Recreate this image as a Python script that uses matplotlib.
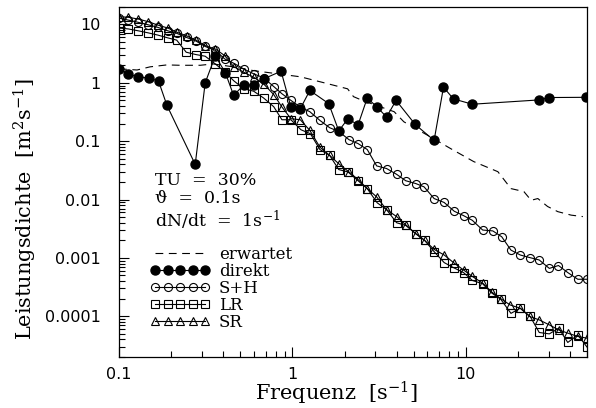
import matplotlib
matplotlib.use("Agg")
import matplotlib.pyplot as plt

# spectral density estimates
erwartet_f = [0.1, 0.127, 0.151, 0.189, 0.225, 0.294, 0.349, 0.456, 0.595, 0.82, 1.11, 1.45,
              2.08, 2.25, 2.53, 3.86, 4.39, 6.53, 8.18, 11.1, 15.3, 18.2, 21.6, 23.8, 26.0,
              29.6, 33.9, 40.5, 47.3]
erwartet_p = [1.74, 1.66, 1.88, 2.03, 2.0, 2.0, 2.11, 1.88, 1.62, 1.43, 1.27, 1.04,
              0.79, 0.58, 0.50, 0.32, 0.215, 0.11, 0.0745, 0.0447, 0.030, 0.0154, 0.0137, 0.0097,
              0.0104, 0.0076, 0.0062, 0.0054, 0.0051]

direkt_f = [0.1, 0.113, 0.129, 0.148, 0.169, 0.189, 0.275, 0.314, 0.359, 0.41, 0.458, 0.524,
            0.597, 0.682, 0.86, 0.98, 1.11, 1.26, 1.62, 1.85, 2.09, 2.39, 2.70, 3.06, 3.49,
            3.96, 5.1, 6.56, 7.43, 8.49, 10.9, 26.5, 30.1, 49.6]
direkt_p = [1.74, 1.43, 1.25, 1.22, 1.07, 0.41, 0.04, 1.0, 2.9, 1.5, 0.61, 0.92,
            0.92, 1.17, 1.58, 0.385, 0.36, 0.74, 0.44, 0.15, 0.243, 0.19, 0.55, 0.39, 0.26,
            0.50, 0.194, 0.103, 0.84, 0.53, 0.43, 0.51, 0.56, 0.565]

sh_f = [0.1, 0.113, 0.129, 0.147, 0.167, 0.191, 0.215, 0.245, 0.278, 0.314, 0.359, 0.407,
        0.458, 0.524, 0.597, 0.682, 0.78, 0.87, 0.98, 1.11, 1.26, 1.44, 1.64, 1.85, 2.12,
        2.39, 2.70, 3.06, 3.49, 3.99, 4.5, 5.14, 5.74, 6.56, 7.5, 8.57, 9.7, 10.9, 12.5,
        14.3, 16.1, 18.2, 20.6, 23.4, 26.5, 30.3, 34.2, 38.7, 44.2, 50]
sh_p = [12.9, 11.9, 10.9, 9.9, 8.95, 7.8, 7.06, 6.0, 5.2, 4.2, 3.6, 2.57,
        2.17, 1.73, 1.43, 1.22, 0.865, 0.65, 0.50, 0.385, 0.32, 0.227, 0.17, 0.147, 0.106,
        0.091, 0.072, 0.0377, 0.034, 0.027, 0.021, 0.0188, 0.0165, 0.0104, 0.0089, 0.0063,
        0.0053, 0.0044, 0.0030, 0.0029, 0.0023, 0.00136, 0.00112, 0.00101, 0.00092, 0.00066,
        0.00074, 0.00056, 0.00043, 0.00043]

lr_f = [0.1, 0.113, 0.129, 0.147, 0.167, 0.191, 0.215, 0.244, 0.278, 0.314, 0.359, 0.407,
        0.458, 0.524, 0.597, 0.682, 0.78, 0.87, 0.98, 1.12, 1.27, 1.44, 1.64, 1.85, 2.09,
        2.39, 2.70, 3.08, 3.49, 3.99, 4.5, 5.14, 5.78, 6.56, 7.5, 8.49, 9.7, 10.9, 12.5,
        14.1, 15.9, 18.2, 20.6, 23.5, 26.5, 30.3, 34.3, 38.7, 44.2, 50]
lr_p = [8.7, 8.4, 7.8, 7.2, 6.6, 5.9, 5.4, 3.35, 3.05, 2.86, 2.11, 1.55,
        1.09, 0.79, 0.72, 0.55, 0.39, 0.233, 0.233, 0.157, 0.134, 0.072, 0.057, 0.0326, 0.0297,
        0.021, 0.0154, 0.0088, 0.0067, 0.0040, 0.0036, 0.0026, 0.0020, 0.00128, 0.00083,
        0.00068, 0.00056, 0.00041, 0.00036, 0.00025, 0.000195, 0.000112, 0.000137, 0.0000989,
        0.0000526, 0.0000498, 0.0000623, 0.0000355, 0.0000478, 0.0000295]

sr_f = [0.1, 0.113, 0.129, 0.147, 0.167, 0.191, 0.215, 0.245, 0.278, 0.314, 0.359, 0.407,
        0.458, 0.524, 0.597, 0.682, 0.78, 0.87, 0.98, 1.11, 1.26, 1.44, 1.64, 1.85, 2.12,
        2.39, 2.70, 3.06, 3.49, 3.99, 4.5, 5.14, 5.78, 6.56, 7.5, 8.49, 9.7, 10.9, 12.5,
        14.1, 15.9, 18.0, 20.6, 23.3, 26.5, 30.3, 34.3, 38.7, 44.2, 50]
sr_p = [13.6, 13.3, 12.4, 11.2, 9.8, 8.7, 7.4, 6.4, 5.4, 4.35, 3.8, 2.93,
        1.9, 1.52, 1.25, 0.96, 0.63, 0.385, 0.243, 0.233, 0.153, 0.079, 0.057, 0.041, 0.0297,
        0.022, 0.0154, 0.0111, 0.0067, 0.0051, 0.0037, 0.0026, 0.0020, 0.0014, 0.00112,
        0.00083, 0.00062, 0.00048, 0.00037, 0.00026, 0.0002, 0.000156, 0.000137, 0.0000989,
        0.0000865, 0.000071, 0.0000583, 0.0000513, 0.000045, 0.000042]

yticks = [0.0001, 0.001, 0.01, 0.1, 1, 10]
ytick_labels = ["0.0001", "0.001", "0.01", "0.1", "1", "10"]
xticks = [0.1, 1, 10]
xtick_labels = ["0.1", "1", "10"]


def main():
    plt.rcParams["font.family"] = "DejaVu Serif"
    plt.rcParams["mathtext.fontset"] = "dejavuserif"

    fig = plt.figure(figsize=(5.96, 4.08), dpi=100)
    ax = fig.add_axes([0.1997, 0.125, 0.7853, 0.858])

    lw = 0.8
    ax.plot(erwartet_f, erwartet_p, color="black", lw=lw, dashes=(7, 5), label="erwartet")
    ax.plot(direkt_f, direkt_p, color="black", lw=lw, marker="o", ms=6.5,
            mfc="black", mec="black", label="direkt")
    ax.plot(sh_f, sh_p, color="black", lw=lw, marker="o", ms=5.8,
            mfc="none", mec="black", mew=0.8, label="S+H")
    ax.plot(lr_f, lr_p, color="black", lw=lw, marker="s", ms=5.2,
            mfc="none", mec="black", mew=0.8, label="LR")
    ax.plot(sr_f, sr_p, color="black", lw=lw, marker="^", ms=5.8,
            mfc="none", mec="black", mew=0.8, label="SR")

    ax.set_xscale("log")
    ax.set_yscale("log")
    ax.set_xlim(0.1, 50)
    ax.set_ylim(2e-5, 20)

    ax.set_xticks(xticks)
    ax.set_xticklabels(xtick_labels, family="DejaVu Sans", fontsize=11.5)
    ax.set_yticks(yticks)
    ax.set_yticklabels(ytick_labels, family="DejaVu Sans", fontsize=11.5)
    ax.tick_params(which="both", direction="in", top=False, right=False)
    ax.tick_params(axis="y", which="major", length=7, width=0.8, pad=13)
    ax.tick_params(axis="x", which="major", length=7, width=0.8, pad=7)
    ax.tick_params(which="minor", length=4, width=0.8)
    for s in ax.spines.values():
        s.set_linewidth(0.9)

    ax.set_xlabel(r"Frequenz  [s$^{-1}$]", fontsize=15)
    ax.xaxis.set_label_coords(0.465, -0.065)
    ax.set_ylabel(r"Leistungsdichte  [m$^2$s$^{-1}$]", fontsize=15)
    ax.yaxis.set_label_coords(-0.172, 0.423)

    ax.text(0.077, 0.528, "TU  =  30%\n\u03d1  =  0.1s\ndN/dt  =  1s$^{-1}$",
            transform=ax.transAxes, fontsize=12.5, va="top", ha="left", linespacing=1.1)

    ax.legend(loc="upper left", bbox_to_anchor=(0.067, 0.318), frameon=False,
              numpoints=5, handlelength=3.6, handletextpad=0.5, labelspacing=0.0,
              fontsize=12, borderaxespad=0, borderpad=0)

    plt.savefig("out.png", dpi=100)


if __name__ == "__main__":
    main()
